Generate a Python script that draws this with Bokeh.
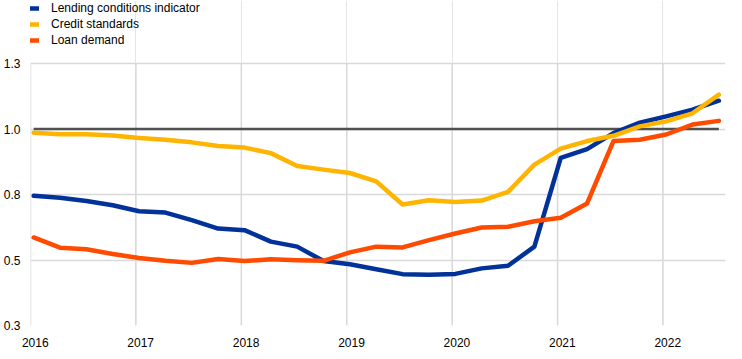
from bokeh.plotting import figure
from bokeh.models import Range1d, FixedTicker, Legend, LegendItem, LinearAxis
from bokeh.embed import file_html
from bokeh.resources import INLINE

# quarterly observations, 2016 Q1 .. 2022 Q3
n_obs = 27
quarter_x = [2016.03 + 0.25 * i for i in range(n_obs)]

lending_conditions = [0.745, 0.738, 0.725, 0.709, 0.686, 0.681, 0.652, 0.620, 0.614,
                      0.570, 0.551, 0.496, 0.484, 0.465, 0.446, 0.444, 0.447, 0.468,
                      0.478, 0.551, 0.890, 0.923, 0.984, 1.024, 1.048, 1.074, 1.108]
credit_standards = [0.986, 0.980, 0.980, 0.975, 0.966, 0.959, 0.949, 0.935, 0.929,
                    0.908, 0.859, 0.845, 0.832, 0.800, 0.712, 0.728, 0.721, 0.727,
                    0.760, 0.864, 0.925, 0.954, 0.974, 1.010, 1.029, 1.060, 1.131]
loan_demand = [0.586, 0.547, 0.541, 0.523, 0.508, 0.497, 0.489, 0.504, 0.496,
               0.503, 0.499, 0.497, 0.529, 0.551, 0.548, 0.576, 0.601, 0.624,
               0.627, 0.648, 0.661, 0.716, 0.954, 0.959, 0.979, 1.017, 1.031]
reference_level = [1.0] * n_obs

series_names = ["Lending conditions indicator", "Credit standards", "Loan demand"]
series_colors = ["#003299", "#FFB400", "#FF4B00"]

x_ticks = [2016, 2017, 2018, 2019, 2020, 2021, 2022]
y_ticks = [0.25, 0.5, 0.75, 1.0, 1.25]
y_tick_labels = ["0.3", "0.5", "0.8", "1.0", "1.3"]
y_min, y_max = 0.25, 1.25
x_start, x_end = 2016.0, 2022.593
label_shift = 0.045  # year labels sit slightly right of their grid lines

FONT = "Liberation Sans"
GRID = "#d9d9d9"

# extra headroom above y_max holds the legend (frame extends to figure top)
p = figure(width=726, height=351, output_backend="svg",
           toolbar_location=None, x_axis_location=None,
           x_range=Range1d(x_start, x_end),
           y_range=Range1d(y_min, y_max + 63 / 262),
           min_border_left=24, min_border_right=1, min_border_top=0,
           min_border_bottom=26)
p.outline_line_color = None
p.background_fill_color = "white"
p.extra_x_ranges = {"labels": Range1d(x_start - label_shift, x_end - label_shift)}

# vertical year grid lines limited to the value range
p.segment(x0=x_ticks, y0=[y_min] * len(x_ticks), x1=x_ticks, y1=[y_max] * len(x_ticks),
          line_color=GRID, line_width=1.5)

p.line(quarter_x, reference_level, line_color="#505050", line_width=2.5)

items = []
for name, color, vals in zip(series_names, series_colors,
                             [lending_conditions, credit_standards, loan_demand]):
    r = p.line(quarter_x, vals, line_color=color, line_width=4.5, line_join="round",
               line_cap="round")
    items.append(LegendItem(label=name, renderers=[r]))

legend = Legend(items=items, location="top_left", orientation="vertical",
                border_line_color=None, background_fill_alpha=0,
                padding=0, margin=0, spacing=0,
                label_height=16, glyph_height=16, glyph_width=9,
                label_standoff=12, label_text_font_size="12px",
                label_text_font=FONT, label_text_color="black")
p.add_layout(legend)

xaxis = LinearAxis(x_range_name="labels", ticker=FixedTicker(ticks=x_ticks))
p.add_layout(xaxis, "below")

for ax in (xaxis, p.yaxis[0]):
    ax.axis_line_color = None
    ax.major_tick_line_color = None
    ax.minor_tick_line_color = None
    ax.major_label_text_font = FONT
    ax.major_label_text_font_size = "12px"
    ax.major_label_text_color = "black"

xaxis.major_label_standoff = 6
p.yaxis.ticker = FixedTicker(ticks=y_ticks)
p.yaxis.major_label_overrides = {t: l for t, l in zip(y_ticks, y_tick_labels)}
p.yaxis.major_label_standoff = 4

p.ygrid.ticker = FixedTicker(ticks=y_ticks)
p.ygrid.grid_line_color = GRID
p.ygrid.grid_line_width = 1.5

open("out.html", "w").write(file_html(p, INLINE))
